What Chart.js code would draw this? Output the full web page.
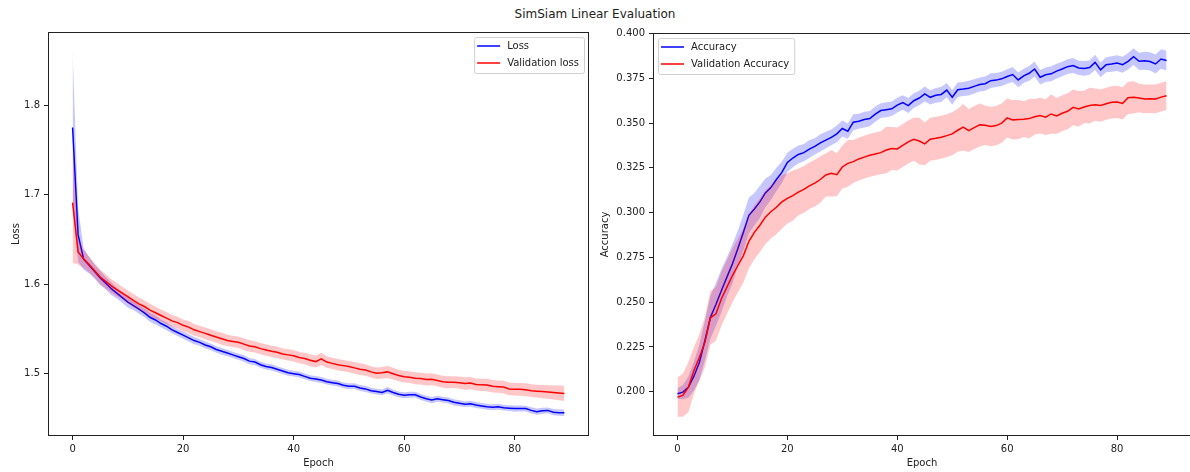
<!DOCTYPE html>
<html>
<head>
<meta charset="utf-8">
<title>SimSiam Linear Evaluation</title>
<script src="https://cdn.jsdelivr.net/npm/chart.js@4.4.0/dist/chart.umd.min.js"></script>
<style>
  html, body { margin: 0; padding: 0; background: #fff; overflow: hidden; }
  body { width: 1190px; height: 472px; position: relative; font-family: "DejaVu Sans", sans-serif; }
  #suptitle { position: absolute; left: 0; top: 7px; width: 1190px; text-align: center; font-size: 12px; color: #222; }
  .panel { position: absolute; top: 0; height: 472px; }
  #loss-panel { left: 0; width: 596px; }
  #acc-panel { left: 596px; width: 604px; }
</style>
</head>
<body>
<div id="suptitle">SimSiam Linear Evaluation</div>
<div class="panel" id="loss-panel"><canvas id="loss-chart"></canvas></div>
<div class="panel" id="acc-panel"><canvas id="acc-chart"></canvas></div>

<script>
// mean curves over runs, plus the spread used for the shaded bands
const trainLoss = [
  1.775, 1.655, 1.628, 1.621, 1.614, 1.607, 1.601, 1.595, 1.590, 1.585,
  1.580, 1.576, 1.572, 1.568, 1.563, 1.560, 1.556, 1.553, 1.549, 1.546,
  1.543, 1.540, 1.537, 1.535, 1.532, 1.530, 1.527, 1.525, 1.523, 1.521,
  1.519, 1.517, 1.514, 1.513, 1.510, 1.508, 1.507, 1.505, 1.503, 1.501,
  1.500, 1.499, 1.497, 1.495, 1.494, 1.493, 1.491, 1.490, 1.489, 1.487,
  1.486, 1.486, 1.484, 1.483, 1.481, 1.480, 1.479, 1.4815, 1.479, 1.477,
  1.476, 1.4765, 1.4765, 1.474, 1.472, 1.4705, 1.472, 1.471, 1.470, 1.468,
  1.467, 1.466, 1.4665, 1.465, 1.464, 1.463, 1.4625, 1.463, 1.462, 1.4615,
  1.461, 1.4612, 1.461, 1.459, 1.4575, 1.4585, 1.459, 1.457, 1.4565, 1.4564
];
const trainLossStd = [
  0.086, 0.030, 0.012, 0.009, 0.008, 0.008, 0.007, 0.007, 0.006, 0.006,
  0.006, 0.005, 0.005, 0.005, 0.005, 0.005, 0.0045, 0.0045, 0.004, 0.004,
  0.004, 0.004, 0.004, 0.0038, 0.004, 0.0038, 0.0036, 0.0038, 0.0036, 0.0035,
  0.0035, 0.0036, 0.0034, 0.0035, 0.0033, 0.0034, 0.0035, 0.0033, 0.0034, 0.0033,
  0.0032, 0.0034, 0.0033, 0.0032, 0.0034, 0.0033, 0.0032, 0.0033, 0.0034, 0.0032,
  0.0033, 0.0032, 0.0033, 0.0034, 0.0032, 0.0033, 0.0032, 0.0035, 0.0033, 0.0032,
  0.0033, 0.0034, 0.0032, 0.0033, 0.0034, 0.0035, 0.0033, 0.0032, 0.0033, 0.0034,
  0.0033, 0.0032, 0.0034, 0.0033, 0.0032, 0.0033, 0.0034, 0.0033, 0.0032, 0.0033,
  0.0034, 0.0033, 0.0032, 0.0034, 0.0035, 0.0034, 0.0033, 0.0035, 0.0036, 0.0037
];
const valLoss = [
  1.691, 1.636, 1.628, 1.622, 1.615, 1.608, 1.603, 1.598, 1.594, 1.590,
  1.586, 1.582, 1.578, 1.575, 1.571, 1.568, 1.565, 1.562, 1.559, 1.557,
  1.554, 1.552, 1.549, 1.547, 1.545, 1.543, 1.541, 1.539, 1.537, 1.536,
  1.535, 1.533, 1.531, 1.530, 1.528, 1.5265, 1.525, 1.524, 1.522, 1.521,
  1.520, 1.518, 1.517, 1.515, 1.5135, 1.5165, 1.513, 1.5115, 1.510, 1.509,
  1.508, 1.5065, 1.505, 1.504, 1.502, 1.5005, 1.501, 1.502, 1.500, 1.498,
  1.4967, 1.496, 1.495, 1.4945, 1.4935, 1.4937, 1.4925, 1.491, 1.4905, 1.4905,
  1.490, 1.489, 1.4895, 1.488, 1.4875, 1.4874, 1.486, 1.4855, 1.485, 1.483,
  1.4826, 1.4825, 1.482, 1.481, 1.4805, 1.480, 1.4795, 1.479, 1.4785, 1.478
];
const valLossStd = [
  0.067, 0.014, 0.010, 0.009, 0.008, 0.008, 0.008, 0.0075, 0.0075, 0.007,
  0.007, 0.007, 0.007, 0.0068, 0.007, 0.0068, 0.0066, 0.0068, 0.0066, 0.0065,
  0.0066, 0.0068, 0.0065, 0.0064, 0.0066, 0.0065, 0.0064, 0.0066, 0.0065, 0.0063,
  0.0064, 0.0066, 0.0065, 0.0063, 0.0064, 0.0065, 0.0063, 0.0064, 0.0062, 0.0064,
  0.0065, 0.0063, 0.0064, 0.0066, 0.0065, 0.0068, 0.0064, 0.0063, 0.0065, 0.0064,
  0.0063, 0.0065, 0.0066, 0.0064, 0.0063, 0.0065, 0.0066, 0.0068, 0.0065, 0.0064,
  0.0066, 0.0065, 0.0067, 0.0066, 0.0068, 0.0067, 0.0066, 0.0068, 0.0067, 0.0066,
  0.0068, 0.0069, 0.0068, 0.0067, 0.0069, 0.0070, 0.0069, 0.0068, 0.0070, 0.0071,
  0.0070, 0.0071, 0.0072, 0.0071, 0.0072, 0.0074, 0.0075, 0.0078, 0.0082, 0.0085
];

const trainAcc = [
  0.1989, 0.1998, 0.2026, 0.2087, 0.2165, 0.2286, 0.2416, 0.2487, 0.2565, 0.2640,
  0.2714, 0.2800, 0.2890, 0.2985, 0.3020, 0.3060, 0.3110, 0.3140, 0.3185, 0.3225,
  0.3280, 0.3305, 0.3325, 0.3335, 0.3355, 0.3370, 0.3390, 0.3405, 0.3420, 0.3440,
  0.3470, 0.3455, 0.3505, 0.3510, 0.3520, 0.3525, 0.3550, 0.3570, 0.3575, 0.3580,
  0.3600, 0.3615, 0.3598, 0.3625, 0.3640, 0.3663, 0.3644, 0.3655, 0.3660, 0.3684,
  0.3644, 0.3686, 0.3690, 0.3695, 0.3705, 0.3715, 0.3720, 0.3737, 0.3740, 0.3747,
  0.3760, 0.3771, 0.3741, 0.3764, 0.3778, 0.3802, 0.3756, 0.3770, 0.3775, 0.3790,
  0.3802, 0.3815, 0.3821, 0.3808, 0.3805, 0.3810, 0.3839, 0.3797, 0.3826, 0.3830,
  0.3835, 0.3826, 0.3845, 0.3871, 0.3845, 0.3848, 0.3844, 0.3830, 0.3858, 0.3849
];
const trainAccStd = [
  0.003, 0.004, 0.006, 0.008, 0.010, 0.011, 0.012, 0.012, 0.012, 0.011,
  0.011, 0.010, 0.010, 0.010, 0.009, 0.009, 0.008, 0.007, 0.0065, 0.006,
  0.0055, 0.0052, 0.005, 0.0048, 0.005, 0.0046, 0.0048, 0.0046, 0.0044, 0.0047,
  0.0045, 0.0043, 0.0045, 0.0042, 0.0044, 0.0042, 0.0043, 0.0041, 0.0042, 0.0040,
  0.0041, 0.0040, 0.0042, 0.0041, 0.0040, 0.0042, 0.0040, 0.0041, 0.0042, 0.0040,
  0.0041, 0.0040, 0.0039, 0.0041, 0.0040, 0.0039, 0.0040, 0.0041, 0.0039, 0.0040,
  0.0040, 0.0042, 0.0041, 0.0040, 0.0041, 0.0042, 0.0041, 0.0040, 0.0042, 0.0041,
  0.0040, 0.0041, 0.0042, 0.0040, 0.0041, 0.0040, 0.0042, 0.0041, 0.0042, 0.0043,
  0.0044, 0.0045, 0.0046, 0.0047, 0.0048, 0.0050, 0.0051, 0.0053, 0.0054, 0.0055
];
const valAcc = [
  0.1970, 0.1980, 0.2026, 0.2119, 0.2193, 0.2277, 0.2413, 0.2435, 0.2519, 0.2584,
  0.2649, 0.2705, 0.2760, 0.2840, 0.2890, 0.2930, 0.2975, 0.3005, 0.3030, 0.3060,
  0.3080, 0.3095, 0.3115, 0.3130, 0.3150, 0.3165, 0.3185, 0.3210, 0.3220, 0.3212,
  0.3255, 0.3275, 0.3285, 0.3300, 0.3310, 0.3320, 0.3328, 0.3335, 0.3350, 0.3358,
  0.3356, 0.3375, 0.3395, 0.3410, 0.3400, 0.3384, 0.3410, 0.3415, 0.3421, 0.3430,
  0.3440, 0.3460, 0.3477, 0.3458, 0.3475, 0.3490, 0.3488, 0.3481, 0.3486, 0.3500,
  0.3529, 0.3518, 0.3520, 0.3522, 0.3525, 0.3535, 0.3542, 0.3533, 0.3551, 0.3540,
  0.3555, 0.3566, 0.3588, 0.3579, 0.3590, 0.3598, 0.3603, 0.3598, 0.3608, 0.3616,
  0.3618, 0.3610, 0.3641, 0.3644, 0.3640, 0.3635, 0.3636, 0.3635, 0.3645, 0.3653
];
const valAccStd = [
  0.011, 0.012, 0.014, 0.013, 0.013, 0.014, 0.015, 0.015, 0.015, 0.015,
  0.015, 0.015, 0.015, 0.015, 0.015, 0.015, 0.015, 0.015, 0.015, 0.015,
  0.014, 0.014, 0.013, 0.013, 0.013, 0.013, 0.013, 0.012, 0.013, 0.012,
  0.012, 0.013, 0.012, 0.012, 0.012, 0.012, 0.012, 0.012, 0.013, 0.012,
  0.012, 0.012, 0.012, 0.012, 0.013, 0.012, 0.012, 0.012, 0.012, 0.012,
  0.012, 0.012, 0.013, 0.012, 0.012, 0.012, 0.011, 0.011, 0.011, 0.011,
  0.011, 0.011, 0.011, 0.010, 0.011, 0.010, 0.010, 0.010, 0.011, 0.010,
  0.010, 0.010, 0.010, 0.010, 0.009, 0.010, 0.009, 0.009, 0.009, 0.009,
  0.009, 0.009, 0.009, 0.009, 0.008, 0.008, 0.008, 0.008, 0.008, 0.008
];

const epochs = trainLoss.map((_, i) => i);
const epochTicks = [0, 20, 40, 60, 80];
const lossTicks = [1.5, 1.6, 1.7, 1.8];
const accTicks = [0.200, 0.225, 0.250, 0.275, 0.300, 0.325, 0.350, 0.375, 0.400];

Chart.defaults.font.family = '"DejaVu Sans", sans-serif';
Chart.defaults.font.size = 10;
Chart.defaults.color = '#222';
Chart.defaults.animation = false;

const INK = '#222';

// closes the box around the plot area (matplotlib style spines)
const framePlugin = {
  id: 'frame',
  afterDatasetsDraw(chart) {
    const { ctx, chartArea: a } = chart;
    ctx.save();
    ctx.strokeStyle = INK;
    ctx.lineWidth = 1;
    ctx.strokeRect(Math.round(a.left) + 0.5, Math.round(a.top) + 0.5,
                   Math.round(a.right - a.left) - 1, Math.round(a.bottom - a.top) - 1);
    ctx.restore();
  }
};

// legend drawn inside the plot area, only for the mean lines
const innerLegend = {
  id: 'innerLegend',
  afterDraw(chart, args, opts) {
    const { ctx, chartArea: a } = chart;
    const items = chart.data.datasets.filter(d => !d.band);
    ctx.save();
    ctx.font = '10px "DejaVu Sans", sans-serif';
    const textW = Math.max(...items.map(d => ctx.measureText(d.label).width));
    const w = 3 + 23 + 7 + textW + 5;
    const h = 36;
    const x = opts.side === 'right' ? a.right - 5 - w : a.left + 5;
    const y = a.top + 5;
    ctx.beginPath();
    ctx.roundRect(x + 0.5, y + 0.5, w, h, 2);
    ctx.fillStyle = 'rgba(255,255,255,0.8)';
    ctx.fill();
    ctx.strokeStyle = '#d0d0d0';
    ctx.lineWidth = 1;
    ctx.stroke();
    items.forEach((d, i) => {
      const ry = y + 9 + i * 17;
      ctx.beginPath();
      ctx.moveTo(x + 3, ry);
      ctx.lineTo(x + 26, ry);
      ctx.strokeStyle = d.borderColor;
      ctx.lineWidth = 1.5;
      ctx.stroke();
      ctx.fillStyle = INK;
      ctx.textBaseline = 'middle';
      ctx.fillText(d.label, x + 33, ry + 0.5);
    });
    ctx.restore();
  }
};

function lineSet(label, data, color, order) {
  return { label, data, borderColor: color, borderWidth: 1.5, pointRadius: 0, fill: false, order };
}

function bandSets(mean, std, fillColor, order) {
  return [
    { band: true, label: '', data: mean.map((m, i) => m + std[i]), borderWidth: 0, pointRadius: 0,
      backgroundColor: fillColor, fill: '+1', order },
    { band: true, label: '', data: mean.map((m, i) => m - std[i]), borderWidth: 0, pointRadius: 0,
      fill: false, order }
  ];
}

function makeChart(canvasId, cfg) {
  return new Chart(document.getElementById(canvasId), {
    type: 'line',
    data: {
      labels: epochs,
      datasets: [
        lineSet(cfg.names[0], cfg.train, 'blue', 3),
        lineSet(cfg.names[1], cfg.val, 'red', 1),
        ...bandSets(cfg.train, cfg.trainStd, 'rgba(0,0,255,0.22)', 4),
        ...bandSets(cfg.val, cfg.valStd, 'rgba(255,0,0,0.22)', 2)
      ]
    },
    options: {
      responsive: true,
      maintainAspectRatio: false,
      layout: { padding: cfg.padding },
      plugins: {
        legend: { display: false },
        tooltip: { enabled: false },
        innerLegend: { side: cfg.legendSide }
      },
      scales: {
        x: {
          type: 'linear',
          min: -4.45,
          max: 93.45,
          afterFit: s => { s.height = 36; },
          afterBuildTicks: s => { s.ticks = epochTicks.map(v => ({ value: v })); },
          grid: { drawOnChartArea: false, drawTicks: true, tickLength: 4, color: INK },
          border: { display: false },
          ticks: { padding: 3, maxRotation: 0, color: INK },
          title: { display: true, text: 'Epoch', color: INK, padding: { top: 0, bottom: 3 } }
        },
        y: {
          min: cfg.yMin,
          max: cfg.yMax,
          afterFit: s => { s.width = cfg.yWidth; },
          afterBuildTicks: s => { s.ticks = cfg.yTicks.map(v => ({ value: v })); },
          grid: { drawOnChartArea: false, drawTicks: true, tickLength: 4, color: INK },
          border: { display: false },
          ticks: { padding: 4, color: INK, callback: v => v.toFixed(cfg.digits) },
          title: { display: true, text: cfg.yTitle, color: INK, padding: { top: cfg.yTitlePad, bottom: 0 } }
        }
      }
    },
    plugins: [framePlugin, innerLegend]
  });
}

makeChart('loss-chart', {
  names: ['Loss', 'Validation loss'],
  train: trainLoss, trainStd: trainLossStd,
  val: valLoss, valStd: valLossStd,
  yMin: 1.4304, yMax: 1.8816, yTicks: lossTicks, digits: 1,
  yTitle: 'Loss', yTitlePad: 10, yWidth: 48,
  padding: { top: 32, right: 7, bottom: 0, left: 0 },
  legendSide: 'right'
});

makeChart('acc-chart', {
  names: ['Accuracy', 'Validation Accuracy'],
  train: trainAcc, trainStd: trainAccStd,
  val: valAcc, valStd: valAccStd,
  yMin: 0.1753, yMax: 0.4003, yTicks: accTicks, digits: 3,
  yTitle: 'Accuracy', yTitlePad: 3, yWidth: 57,
  padding: { top: 33, right: 9, bottom: 0, left: 0 },
  legendSide: 'left'
});
</script>
</body>
</html>
